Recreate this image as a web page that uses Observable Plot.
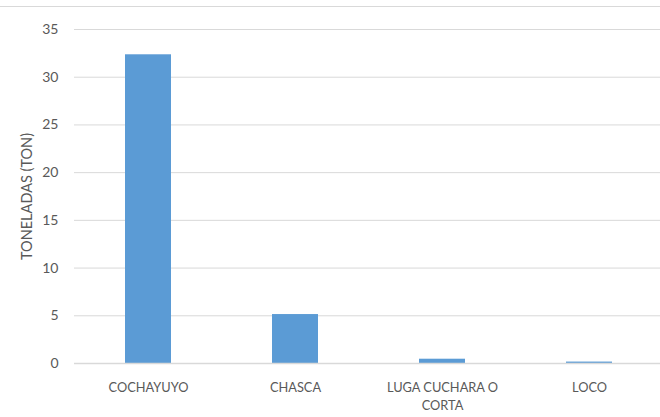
<!DOCTYPE html>
<html>
<head>
<meta charset="utf-8">
<script src="https://cdn.jsdelivr.net/npm/d3@7"></script>
<script src="https://cdn.jsdelivr.net/npm/@observablehq/plot@0.6"></script>
<style>
  html, body { margin: 0; padding: 0; background: #fff; }
  #wrap { position: relative; width: 660px; height: 417px; overflow: hidden; }
  #topline { position: absolute; left: 0; top: 6px; width: 660px; height: 1px; background: #d9d9d9; }
</style>
</head>
<body>
<div id="wrap"><div id="topline"></div></div>
<script>
const categories = ["COCHAYUYO", "CHASCA", "LUGA CUCHARA O CORTA", "LOCO"];
const tonnes = [32.35, 5.13, 0.45, 0.15];
const yTicks = [0, 5, 10, 15, 20, 25, 30, 35];
const tickLabels = {"LUGA CUCHARA O CORTA": "LUGA CUCHARA O\nCORTA"};

const data = categories.map((c, i) => ({category: c, value: tonnes[i]}));

const chart = Plot.plot({
  width: 660,
  height: 417,
  marginLeft: 74,
  marginRight: -3,
  marginTop: 29,
  marginBottom: 54,
  style: {fontFamily: "Lato, 'Open Sans', sans-serif", fontSize: "13px", color: "#595959", background: "transparent"},
  x: {domain: categories, paddingInner: 0.69, paddingOuter: 0.345, label: null},
  y: {domain: [0, 35], ticks: yTicks, label: "TONELADAS (TON)"},
  marks: [
    Plot.gridY(yTicks, {stroke: "#d9d9d9", strokeOpacity: 1, strokeWidth: 1}),
    Plot.barY(data, {x: "category", y: "value", fill: "#5b9bd5"}),
    Plot.ruleY([0], {stroke: "#d9d9d9", strokeWidth: 1.5}),
    Plot.axisX({tickSize: 0, tickPadding: 15, fontSize: 12.8, fill: "#595959", tickFormat: d => tickLabels[d] ?? d, lineHeight: 1.45, label: null}),
    Plot.axisY(yTicks, {tickSize: 0, tickPadding: 16, fontSize: 14, fill: "#595959", label: null}),
    Plot.axisY({tickSize: 0, ticks: [], fontSize: 14.5, fill: "#595959", label: "TONELADAS (TON)", labelAnchor: "center", labelArrow: "none", labelOffset: 53})
  ]
});
document.getElementById("wrap").appendChild(chart);
</script>
</body>
</html>
